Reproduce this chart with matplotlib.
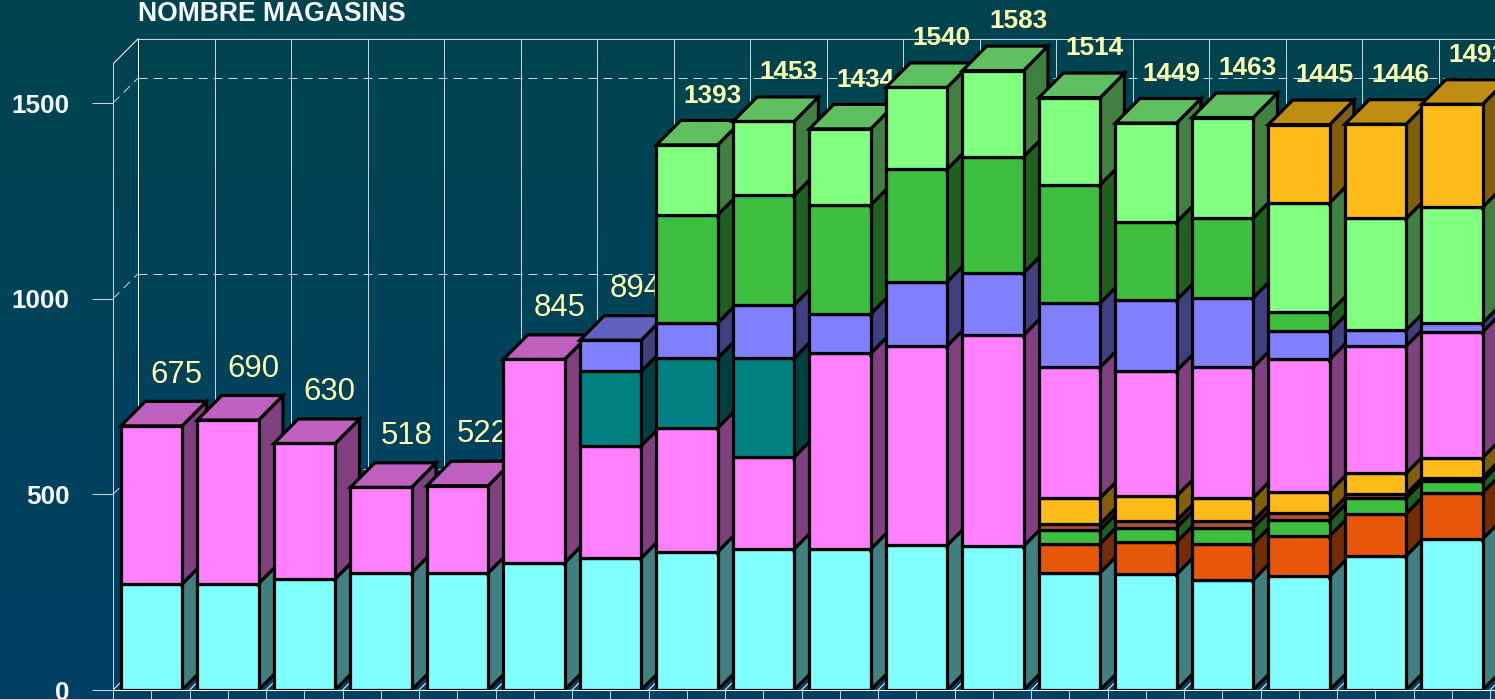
import numpy as np
from matplotlib import pyplot as plt
from matplotlib.patches import Polygon
from matplotlib.colors import to_rgb, LinearSegmentedColormap

# Valeurs, de bas en haut de chaque barre
cyan      = [271, 272, 284, 299, 299, 325, 337, 353, 360, 360, 370, 368, 300, 296, 281, 291, 343, 386]
orange    = [0, 0, 0, 0, 0, 0, 0, 0, 0, 0, 0, 0, 74, 82, 93, 103, 108, 118]
vert      = [0, 0, 0, 0, 0, 0, 0, 0, 0, 0, 0, 0, 35, 37, 41, 40, 40, 31]
brun      = [0, 0, 0, 0, 0, 0, 0, 0, 0, 0, 0, 0, 16, 18, 17, 18, 10, 8]
jaune_bas = [0, 0, 0, 0, 0, 0, 0, 0, 0, 0, 0, 0, 66, 63, 59, 55, 53, 51]
magenta   = [404, 418, 346, 219, 223, 520, 287, 317, 235, 500, 509, 539, 334, 320, 334, 338, 325, 321]
teal      = [0, 0, 0, 0, 0, 0, 190, 178, 253, 0, 0, 0, 0, 0, 0, 0, 0, 0]
bleu      = [0, 0, 0, 0, 0, 0, 80, 90, 136, 101, 164, 159, 164, 181, 177, 72, 41, 23]
vert_f    = [0, 0, 0, 0, 0, 0, 0, 276, 280, 278, 288, 297, 302, 199, 204, 48, 0, 0]
vert_c    = [0, 0, 0, 0, 0, 0, 0, 179, 189, 195, 209, 220, 223, 253, 257, 280, 285, 296]
jaune     = [0, 0, 0, 0, 0, 0, 0, 0, 0, 0, 0, 0, 0, 0, 0, 200, 241, 263]

totaux = [675, 690, 630, 518, 522, 845, 894, 1393, 1453, 1434, 1540, 1583, 1514, 1449, 1463, 1445, 1446, 1491]
graduations = [0, 500, 1000, 1500]

series = [cyan, orange, vert, brun, jaune_bas, magenta, teal, bleu, vert_f, vert_c, jaune]
couleurs = ['#80FFFF', '#E6570A', '#3EBE3E', '#B05030', '#FFBC18', '#FF80FF',
            '#008080', '#8080FF', '#3EBE3E', '#80FF80', '#FFBC18']

plt.rcParams['font.family'] = ['Liberation Sans', 'DejaVu Sans']

L, H = 1495, 699
X0, Y0 = 113, 690       # origine du graphique en pixels
PX_X = 76.5             # pixels par categorie
PX_Y = 0.3913           # pixels par magasin
DX = 25 / PX_X          # profondeur du mur
DY = 25 / PX_Y
DXB = 24.3 / PX_X       # profondeur des barres
DYB = 24.5 / PX_Y
HAUT = 1664             # haut du mur du fond
LARG = 0.80
MARGE = 0.104
NOIR = 3.2 * 0.72       # 3 px environ
FIN = 1 * 0.72          # 1 px
GRILLE = '#C4D6DA'
JAUNE_TXT = '#FFFFB0'

fig = plt.figure(figsize=(L / 100, H / 100), dpi=100)

# Fond en degrade
fond = fig.add_axes([0, 0, 1, 1], zorder=-1)
fond.imshow(np.linspace(0, 1, 256).reshape(-1, 1), aspect='auto', extent=[0, 1, 0, 1],
            cmap=LinearSegmentedColormap.from_list('f', ['#00444E', '#004066']))
fond.axis('off')

ax = fig.add_axes([X0 / L, (H - Y0) / H, (L - X0) / L, Y0 / H])
ax.patch.set_alpha(0)
ax.set_xlim(0, (L - X0) / PX_X)
ax.set_ylim(0, Y0 / PX_Y)

# Axes, graduations
for nom in ['top', 'right']:
    ax.spines[nom].set_visible(False)
ax.spines['left'].set_bounds(0, HAUT - DY)
ax.spines['left'].set_color(GRILLE)
ax.spines['left'].set_linewidth(FIN)
ax.spines['bottom'].set_color('white')
ax.spines['bottom'].set_linewidth(FIN)
ax.spines['bottom'].set_zorder(500)
ax.set_xticks(np.arange(0, 18.5, 0.5))
ax.set_xticklabels([])
ax.tick_params(axis='x', length=9 * 0.72, width=FIN, color=GRILLE)
ax.set_yticks(graduations)
ax.set_yticklabels([str(g) for g in graduations], fontsize=18.8, fontweight='bold', color='#F4F8F8',
                   va='center_baseline')
ax.tick_params(axis='y', length=21 * 0.72, width=FIN, color=GRILLE, pad=16)

# Mur du fond
tirets = (0, (9, 6))
for k in range(0, 19):
    ax.plot([k + DX, k + DX], [DY, HAUT], color=GRILLE if k else 'white', lw=FIN, zorder=1)
    ax.plot([k, k + DX], [0, DY], color='white', lw=FIN, zorder=1)
ax.plot([DX, 19], [HAUT, HAUT], color=GRILLE, lw=FIN, zorder=1)
ax.plot([0, DX], [HAUT - DY, HAUT], color='white', lw=FIN, zorder=1)
for g in graduations[1:]:
    ax.plot([DX, 19], [g + DY, g + DY], color=GRILLE, lw=FIN, ls=tirets, zorder=1)
    ax.plot([0, DX], [g, g + DY], color=GRILLE, lw=FIN, ls=tirets, zorder=1)

def assombrir(couleur, f):
    r, v, b = to_rgb(couleur)
    return (r * f, v * f, b * f)

def face(points, couleur, z):
    ax.add_patch(Polygon(points, closed=True, facecolor=couleur, edgecolor='black',
                         lw=NOIR, joinstyle='miter', zorder=z))

# Barres dessinees de gauche a droite, chacune recouvre la precedente
z = 10
for i in range(len(totaux)):
    x1 = i + MARGE
    x2 = x1 + LARG
    bas = 0
    derniere = None
    for s in range(len(series)):
        v = series[s][i]
        if v == 0:
            continue
        haut = bas + v
        face([(x2, bas), (x2 + DXB, bas + DYB), (x2 + DXB, haut + DYB), (x2, haut)], assombrir(couleurs[s], 0.5), z)
        face([(x1, bas), (x2, bas), (x2, haut), (x1, haut)], couleurs[s], z + 1)
        z += 2
        bas = haut
        derniere = couleurs[s]
    face([(x1, bas), (x2, bas), (x2 + DXB, bas + DYB), (x1 + DXB, bas + DYB)], assombrir(derniere, 0.75), z)
    z += 1
    # Etiquette du total, les 7 premieres ne sont pas en gras
    gras = i >= 7
    ax.text(x1 + LARG / 2 + 0.33, bas + (126 if gras else 131), str(totaux[i]), ha='center', va='center',
            fontsize=18.8 if gras else 22.4, fontweight='bold' if gras else 'normal',
            color=JAUNE_TXT, zorder=z, clip_on=False)
    z += 1

fig.text(138 / L, 1 - 14 / H, 'NOMBRE MAGASINS', ha='left', va='center', fontsize=19.1,
         fontweight='bold', color='#F4F8F8')

fig.savefig('out.png', dpi=100)
